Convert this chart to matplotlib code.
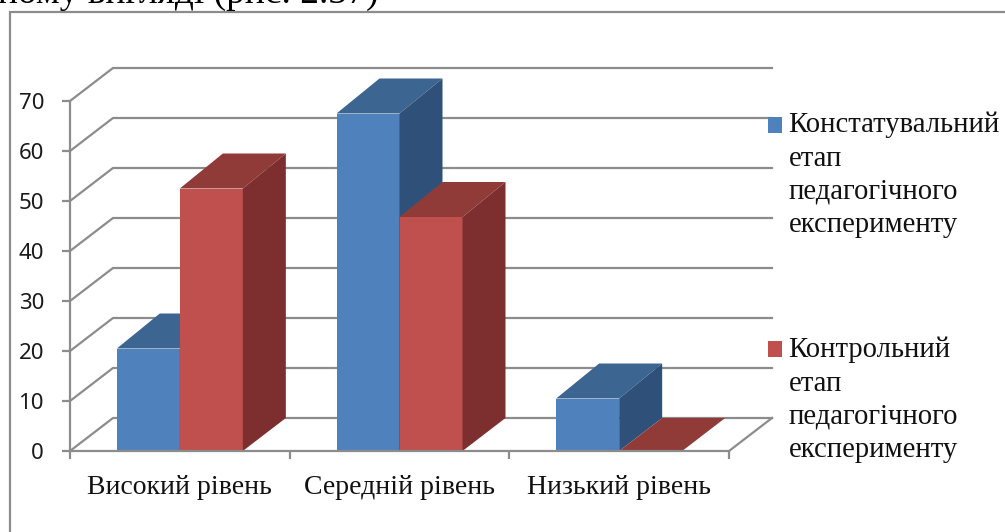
import matplotlib
matplotlib.use("Agg")
import matplotlib.pyplot as plt
from matplotlib.legend_handler import HandlerPatch
from matplotlib.lines import Line2D
from matplotlib.patches import Patch, Polygon, Rectangle

categories = ["Високий рівень", "Середній рівень", "Низький рівень"]
stage_1 = [20.5, 67.5, 10.5]
stage_2 = [52.5, 46.8, 0]
series_names = ["Констатувальний\nетап\nпедагогічного\nексперименту",
                "Контрольний\nетап\nпедагогічного\nексперименту"]
y_ticks = [0, 10, 20, 30, 40, 50, 60, 70]
header = "ному вигляді (рис. 2.37)"

W, H = 1005, 532
SERIF = "Liberation Serif"
GRID = "#8c8c8c"
fig = plt.figure(figsize=(W / 100, H / 100), dpi=100, facecolor="white")
ax = fig.add_axes([70 / W, (H - 451) / H, (729 - 70) / W, 350 / H])
ax.set_xlim(0, 3)
ax.set_ylim(0, 70)
ax.patch.set_visible(False)

DX = 43 / (659 / 3)
DY = 33 / 5
BAR_W = 63 / (659 / 3)
RAISED_DY = 7.0

for y in y_ticks:
    ax.plot([0, DX, 3 + DX], [y, y + DY, y + DY], color=GRID, lw=1.6,
            clip_on=False, zorder=1, solid_joinstyle="miter")
ax.plot([3, 3 + DX], [0, DY], color=GRID, lw=1.6, clip_on=False, zorder=1)


def bar(x, h, front, top, side):
    top_dy = RAISED_DY if h > 0 else DY
    ax.add_patch(Polygon([(x, 0), (x + BAR_W, 0), (x + BAR_W, h), (x, h)],
                         fc=front, ec="none", clip_on=False, zorder=3))
    ax.add_patch(Polygon([(x, h), (x + BAR_W, h), (x + BAR_W + DX, h + top_dy), (x + DX, h + top_dy)],
                         fc=top, ec="none", clip_on=False, zorder=3))
    ax.add_patch(Polygon([(x + BAR_W, 0), (x + BAR_W + DX, DY), (x + BAR_W + DX, h + top_dy), (x + BAR_W, h)],
                         fc=side, ec="none", clip_on=False, zorder=3))


BLUE = ("#4F81BD", "#3D6591", "#2F5179")
RED = ("#C0504D", "#913B39", "#7C2F2E")
for i in range(len(categories)):
    c = i + 0.5
    bar(c - BAR_W, stage_1[i], *BLUE)
    bar(c, stage_2[i], *RED)

for s in ("top", "right"):
    ax.spines[s].set_visible(False)
for s in ("left", "bottom"):
    ax.spines[s].set_color(GRID)
    ax.spines[s].set_linewidth(1.6)
    ax.spines[s].set_zorder(4)

ax.set_yticks(y_ticks)
ax.set_yticklabels([str(v) for v in y_ticks], family="Noto Sans", fontsize=16, color="#1a1a1a")
ax.set_xticks([0, 1, 2, 3])
ax.set_xticklabels([])
ax.tick_params(axis="y", length=6, width=1.6, color=GRID, pad=12.7)
ax.tick_params(axis="x", length=6, width=1.6, color=GRID)
for i, name in enumerate(categories):
    ax.annotate(name, (i + 0.5, 0), xytext=(0, -31), textcoords="offset points",
                ha="center", va="baseline", family=SERIF, fontsize=20, color="#111111")


def top_square(legend, orig_handle, xdescent, ydescent, width, height, fontsize):
    return Rectangle((-xdescent, -ydescent + 36.2), width, height)


handles = [Patch(fc=BLUE[0], ec="none"), Patch(fc=RED[0], ec="none")]
leg = ax.legend(handles, series_names, loc="upper left", bbox_to_anchor=(768 / W, (H - 112) / H),
                bbox_transform=fig.transFigure, frameon=False, borderpad=0, borderaxespad=0,
                prop={"family": SERIF, "size": 20.6}, handlelength=0.49, handleheight=0.49,
                handletextpad=0.23, labelspacing=3.45, labelcolor="#111111",
                handler_map={Patch: HandlerPatch(patch_func=top_square)})
for t in leg.get_texts():
    t.set_linespacing(1.36)

fig.add_artist(Line2D([9.5 / W, 9.5 / W, 1], [0, (H - 11.5) / H, (H - 11.5) / H],
                      color="#8c8c8c", lw=1.6, solid_joinstyle="miter"))
fig.text(-2 / W, (H - 3) / H, header, family=SERIF, fontsize=27, color="black", va="baseline", ha="left")

fig.savefig("out.png", dpi=100)
